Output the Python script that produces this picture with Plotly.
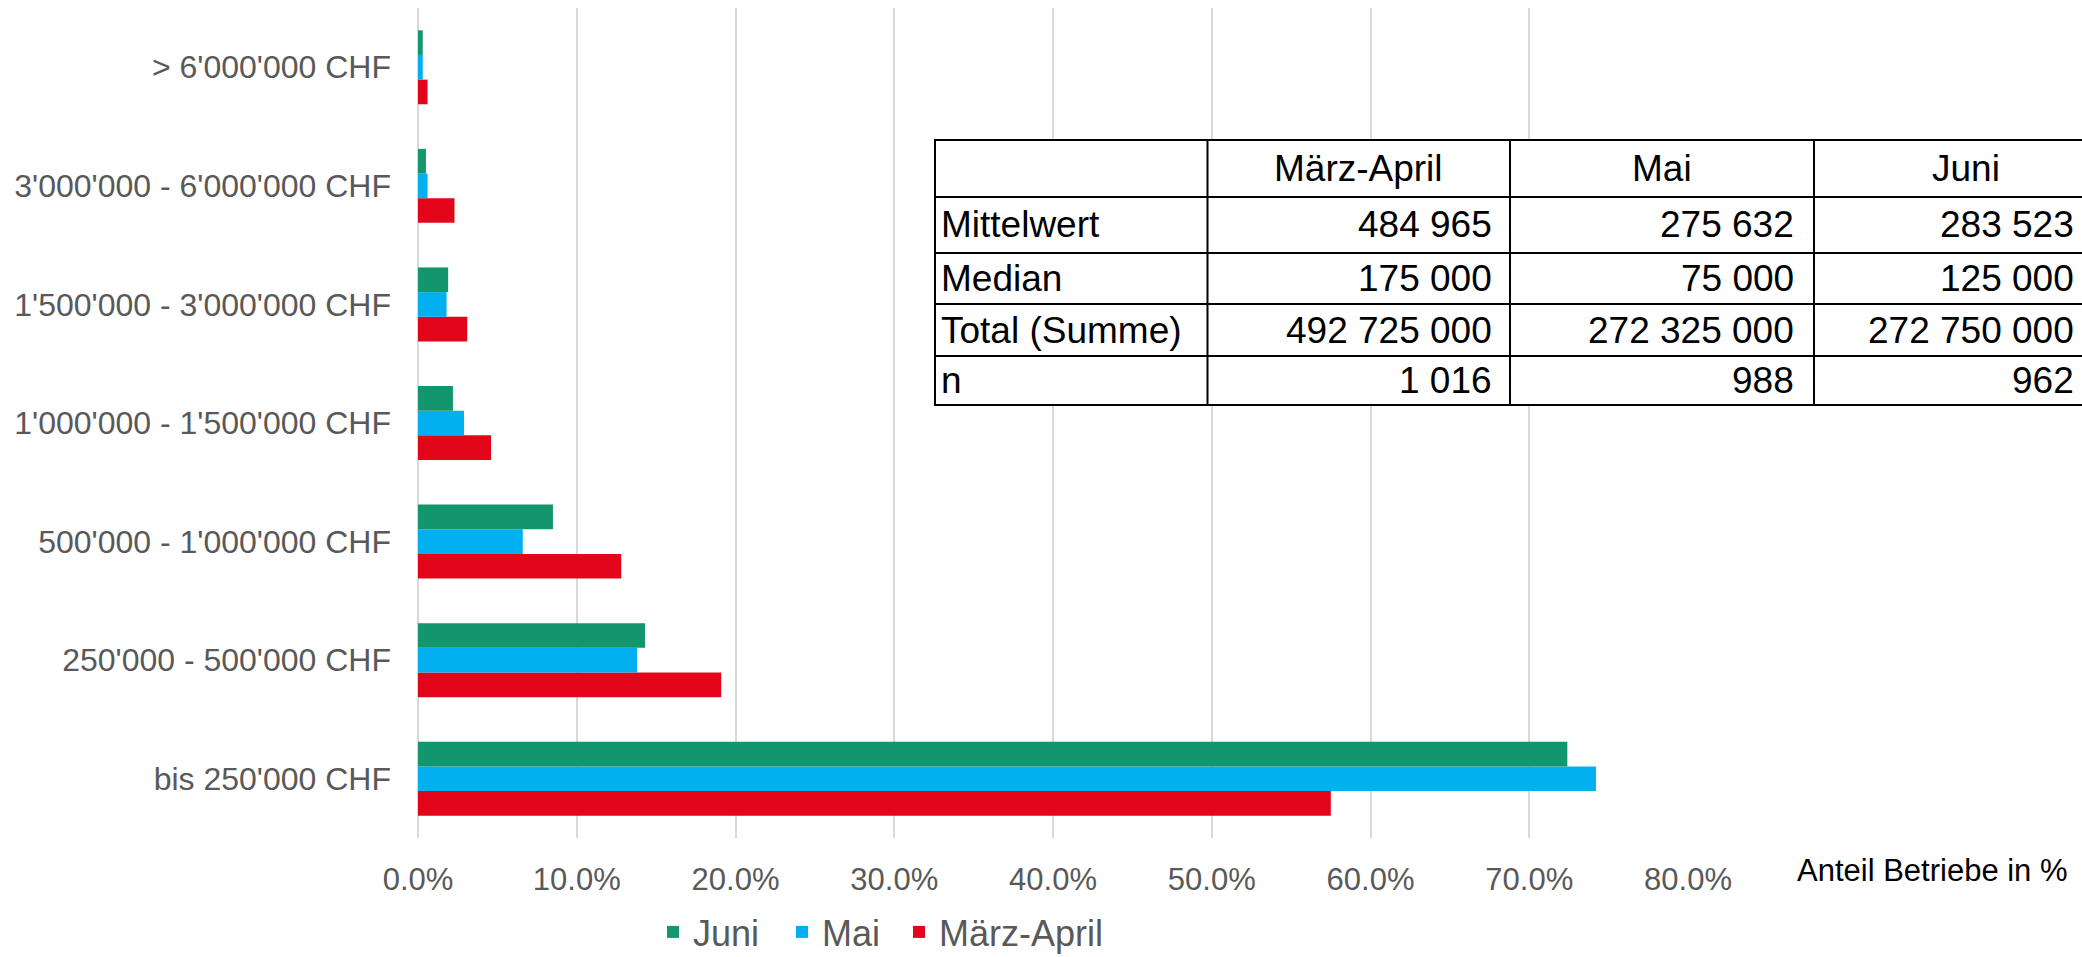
import plotly.graph_objects as go

# ---------------- data ----------------
categories = [
    "bis 250'000 CHF",
    "250'000 - 500'000 CHF",
    "500'000 - 1'000'000 CHF",
    "1'000'000 - 1'500'000 CHF",
    "1'500'000 - 3'000'000 CHF",
    "3'000'000 - 6'000'000 CHF",
    "> 6'000'000 CHF",
]
maerz_april = [57.5, 19.1, 12.8, 4.6, 3.1, 2.3, 0.6]
mai = [74.2, 13.8, 6.6, 2.9, 1.8, 0.6, 0.3]
juni = [72.4, 14.3, 8.5, 2.2, 1.9, 0.5, 0.3]

series_names = ["März-April", "Mai", "Juni"]
series_colors = ["#E3061A", "#00B0F0", "#13966E"]

x_ticks = [0, 10, 20, 30, 40, 50, 60, 70, 80]
x_ticklabels = ["0.0%", "10.0%", "20.0%", "30.0%", "40.0%", "50.0%", "60.0%", "70.0%", "80.0%"]
x_title = "Anteil Betriebe in %"

# summary table
table_header = ["", "März-April", "Mai", "Juni"]
table_row_labels = ["Mittelwert", "Median", "Total (Summe)", "n"]
table_maerz_april = ["484 965", "175 000", "492 725 000", "1 016"]
table_mai = ["275 632", "75 000", "272 325 000", "988"]
table_juni = ["283 523", "125 000", "272 750 000", "962"]

# ---------------- layout constants (pixels) ----------------
W, H = 2082, 957
L, R, T, B = 418, 394, 8, 119
PW = W - L - R
PH = H - T - B

def px_x(px):
    return (px - L) / PW

def px_y(py):
    return (H - B - py) / PH

FONT = "Arial, Liberation Sans, sans-serif"
GREY = "#595959"

# legend entry widths (spacing of the legend items)
legend_widths = {"März-April": None, "Mai": 72, "Juni": 84}

fig = go.Figure()
for name, vals, col in zip(series_names, [maerz_april, mai, juni], series_colors):
    fig.add_trace(go.Bar(
        y=categories, x=vals, name=name, orientation="h",
        marker=dict(color=col, line=dict(width=0)),
        legendwidth=legend_widths[name],
    ))

# ---------------- table (shapes + annotations) ----------------
tab_x = [935, 1207.5, 1510, 1814, 2118]
tab_y = [140, 197, 253, 304, 356, 405]
value_right = [1494, 1796, 2076]   # right edge of the numbers in each value column
shapes = []
annotations = []
shapes.append(dict(type="rect", xref="paper", yref="paper",
                   x0=px_x(tab_x[0]), x1=px_x(tab_x[-1]),
                   y0=px_y(tab_y[-1]), y1=px_y(tab_y[0]),
                   fillcolor="white", line=dict(color="black", width=2), layer="above"))
for xv in tab_x[1:-1]:
    shapes.append(dict(type="line", xref="paper", yref="paper",
                       x0=px_x(xv), x1=px_x(xv), y0=px_y(tab_y[-1]), y1=px_y(tab_y[0]),
                       line=dict(color="black", width=2), layer="above"))
for yv in tab_y[1:-1]:
    shapes.append(dict(type="line", xref="paper", yref="paper",
                       x0=px_x(tab_x[0]), x1=px_x(tab_x[-1]), y0=px_y(yv), y1=px_y(yv),
                       line=dict(color="black", width=2), layer="above"))

TF = 37
for i, h in enumerate(table_header):
    if not h:
        continue
    annotations.append(dict(xref="paper", yref="paper",
                            x=px_x((tab_x[i] + tab_x[i + 1]) / 2), y=px_y((tab_y[0] + tab_y[1]) / 2),
                            text=h, showarrow=False, xanchor="center", yanchor="middle",
                            font=dict(family=FONT, size=TF, color="black")))
cols = [table_maerz_april, table_mai, table_juni]
for r, lab in enumerate(table_row_labels):
    yc = px_y((tab_y[r + 1] + tab_y[r + 2]) / 2)
    annotations.append(dict(xref="paper", yref="paper", x=px_x(tab_x[0] + 4), y=yc,
                            text=lab, showarrow=False, xanchor="left", yanchor="middle",
                            font=dict(family=FONT, size=TF, color="black")))
    for c, colvals in enumerate(cols):
        annotations.append(dict(xref="paper", yref="paper", x=px_x(value_right[c]), y=yc,
                                text=colvals[r], showarrow=False, xanchor="right", yanchor="middle",
                                font=dict(family=FONT, size=TF, color="black")))

# axis title placed to the right of the last tick
annotations.append(dict(xref="paper", yref="paper", x=px_x(1795), y=px_y(870),
                        text=x_title, showarrow=False, xanchor="left", yanchor="middle",
                        font=dict(family=FONT, size=31, color="black")))

fig.update_layout(
    width=W, height=H,
    margin=dict(l=L, r=R, t=T, b=B, autoexpand=False),
    paper_bgcolor="white", plot_bgcolor="white",
    barmode="group", bargap=0.376, bargroupgap=0,
    font=dict(family=FONT, color=GREY),
    xaxis=dict(range=[0, 80], tickvals=x_ticks, ticktext=x_ticklabels,
               showgrid=True, gridcolor="#D9D9D9", gridwidth=2,
               zeroline=True, zerolinecolor="#D9D9D9", zerolinewidth=2,
               showline=False, ticks="", ticklabelstandoff=20,
               tickfont=dict(family=FONT, size=31, color=GREY), fixedrange=True),
    yaxis=dict(showgrid=False, zeroline=False, showline=False, ticks="",
               ticklabelstandoff=26,
               tickfont=dict(family=FONT, size=32, color=GREY), fixedrange=True),
    legend=dict(orientation="h", traceorder="reversed",
                x=px_x(653), xanchor="left", y=px_y(932), yanchor="middle",
                font=dict(family=FONT, size=36, color=GREY), bgcolor="rgba(0,0,0,0)"),
    shapes=shapes,
    annotations=annotations,
)

fig.write_html("out.html",
               config={"displayModeBar": False},
               post_script="document.body.style.margin='0';document.body.style.overflow='hidden';")
